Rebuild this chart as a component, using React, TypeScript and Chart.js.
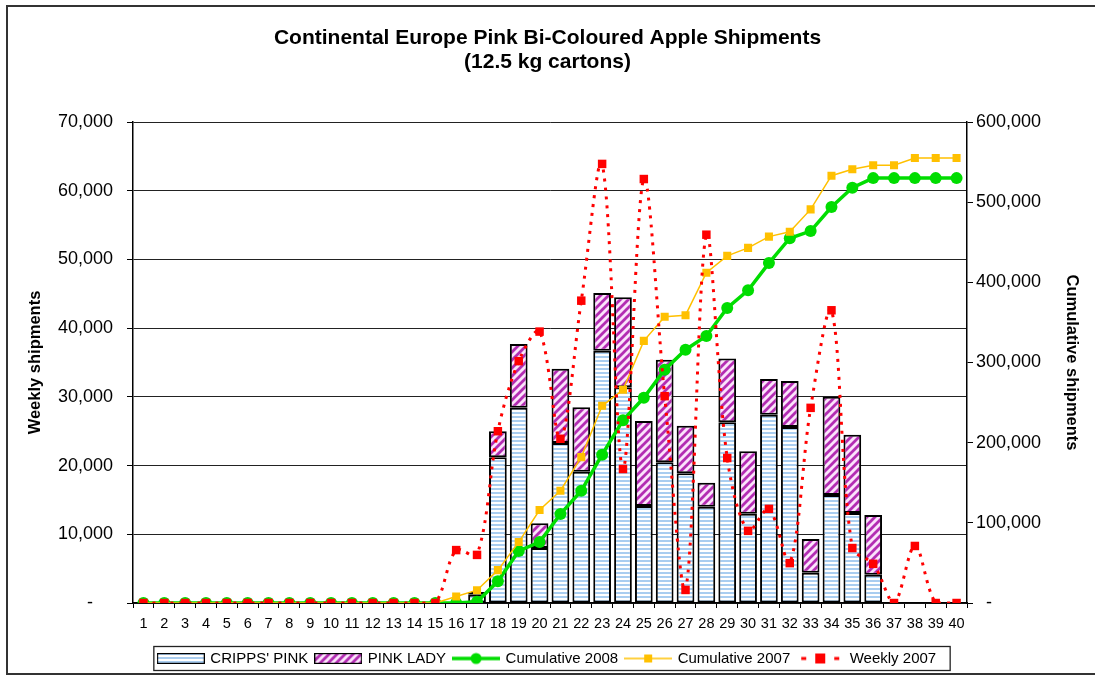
import React, { useEffect, useRef } from 'react';
import { Chart, registerables } from 'chart.js';

Chart.register(...registerables);

const FONT = "'Liberation Sans', Arial, Helvetica, sans-serif";

const weekLabels = [
  '1', '2', '3', '4', '5', '6', '7', '8', '9', '10',
  '11', '12', '13', '14', '15', '16', '17', '18', '19', '20',
  '21', '22', '23', '24', '25', '26', '27', '28', '29', '30',
  '31', '32', '33', '34', '35', '36', '37', '38', '39', '40',
];

const crippsPink = [
  null, null, null, null, null, null, null, null, null, null,
  null, null, null, null, null, null, 1200, 21200, 28400, 8000,
  23300, 19100, 36700, 31400, 14100, 20500, 18900, 14000, 26300, 13000,
  27400, 25600, 4400, 15700, 13100, 4100, null, null, null, null,
];

const pinkLady = [
  null, null, null, null, null, null, null, null, null, null,
  null, null, null, null, null, null, 400, 3800, 9300, 3600,
  10800, 9400, 8400, 13100, 12400, 14900, 6900, 3500, 9300, 9100,
  5200, 6700, 4900, 14300, 11400, 8700, null, null, null, null,
];

const cumulative2008 = [
  0, 0, 0, 0, 0, 0, 0, 0, 0, 0,
  0, 0, 0, 0, 0, 0, 1500, 27000, 65000, 76000,
  111000, 140000, 185000, 228000, 256000, 291000, 316000, 333000, 368000, 390000,
  424000, 455000, 464000, 494000, 518000, 530000, 530000, 530000, 530000, 530000,
];

const cumulative2007 = [
  0, 0, 0, 0, 0, 0, 0, 0, 0, 0,
  0, 0, 0, 0, 0, 8000, 16000, 41000, 76000, 116000,
  140000, 182000, 246000, 266000, 327000, 357000, 359000, 412000, 433000, 443000,
  457000, 463000, 491000, 533000, 541000, 546000, 546000, 555000, 555000, 555000,
];

const weekly2007 = [
  0, 0, 0, 0, 0, 0, 0, 0, 0, 0,
  0, 0, 0, 0, 0, 7700, 7000, 25000, 35200, 39500,
  23900, 44000, 63900, 19500, 61700, 30100, 1900, 53600, 21100, 10500,
  13700, 5800, 28400, 42600, 8000, 5700, 0, 8300, 0, 0,
];

const titleLines = ['Continental Europe Pink Bi-Coloured Apple Shipments', '(12.5 kg cartons)'];
const legendNames = ["CRIPPS' PINK", 'PINK LADY', 'Cumulative 2008', 'Cumulative 2007', 'Weekly 2007'];

const BLUE_STRIPE = '#a9cdf0';
const PURPLE = '#b32db3';
const PINK_BG = '#fbe3fb';
const GREEN = '#00dd00';
const ORANGE = '#ffc000';
const RED = '#ff0000';

function makeBluePattern(ctx: CanvasRenderingContext2D) {
  const c = document.createElement('canvas');
  c.width = 4;
  c.height = 4;
  const g = c.getContext('2d')!;
  g.fillStyle = '#ffffff';
  g.fillRect(0, 0, 4, 4);
  g.fillStyle = BLUE_STRIPE;
  g.fillRect(0, 0, 4, 2);
  return ctx.createPattern(c, 'repeat')!;
}

function makePinkPattern(ctx: CanvasRenderingContext2D) {
  const c = document.createElement('canvas');
  c.width = 8;
  c.height = 8;
  const g = c.getContext('2d')!;
  g.fillStyle = PINK_BG;
  g.fillRect(0, 0, 8, 8);
  g.strokeStyle = PURPLE;
  g.lineWidth = 2.8;
  g.beginPath();
  g.moveTo(-2, 10); g.lineTo(10, -2);
  g.moveTo(-6, 6); g.lineTo(6, -6);
  g.moveTo(2, 14); g.lineTo(14, 2);
  g.stroke();
  return ctx.createPattern(c, 'repeat')!;
}

function swatchBar(kind: 'blue' | 'pink') {
  const c = document.createElement('canvas');
  c.width = 48;
  c.height = 11;
  const g = c.getContext('2d')!;
  g.fillStyle = kind === 'blue' ? makeBluePattern(g) : makePinkPattern(g);
  g.fillRect(1, 1, 46, 9);
  g.strokeStyle = '#000';
  g.lineWidth = 1.2;
  g.strokeRect(0.6, 0.6, 46.8, 9.8);
  return c;
}

function swatchLine(kind: 'green' | 'orange' | 'red') {
  const c = document.createElement('canvas');
  c.width = 48;
  c.height = 14;
  const g = c.getContext('2d')!;
  if (kind === 'green') {
    g.strokeStyle = GREEN;
    g.lineWidth = 3.5;
    g.beginPath(); g.moveTo(0, 7); g.lineTo(48, 7); g.stroke();
    g.fillStyle = GREEN;
    g.beginPath(); g.arc(24, 7, 5.5, 0, Math.PI * 2); g.fill();
  } else if (kind === 'orange') {
    g.strokeStyle = ORANGE;
    g.lineWidth = 1.5;
    g.beginPath(); g.moveTo(0, 7); g.lineTo(48, 7); g.stroke();
    g.fillStyle = ORANGE;
    g.fillRect(20, 3, 8, 8);
  } else {
    g.fillStyle = RED;
    g.fillRect(5, 5.5, 5, 3);
    g.fillRect(19, 2, 10, 10);
    g.fillRect(38, 5.5, 5, 3);
  }
  return c;
}

const legendBoxPlugin = {
  id: 'legendBox',
  afterDraw(chart: any) {
    const lg = chart.legend;
    if (!lg || !lg.legendHitBoxes || !lg.legendHitBoxes.length) return;
    const hb = lg.legendHitBoxes;
    const first = hb[0];
    const last = hb[hb.length - 1];
    const left = first.left - 5;
    const right = last.left + last.width + 14;
    const cy = first.top + first.height / 2;
    const ctx = chart.ctx;
    ctx.save();
    ctx.strokeStyle = '#222';
    ctx.lineWidth = 1.3;
    ctx.strokeRect(left, cy - 12, right - left, 24);
    ctx.restore();
  },
};

export default function App() {
  const ref = useRef<HTMLCanvasElement>(null);

  useEffect(() => {
    document.body.style.margin = '0';
    const canvas = ref.current!;
    const ctx = canvas.getContext('2d')!;
    const bluePat = makeBluePattern(ctx);
    const pinkPat = makePinkPattern(ctx);
    Chart.defaults.font.family = FONT;
    Chart.defaults.color = '#000';

    const swatches = [swatchBar('blue'), swatchBar('pink'), swatchLine('green'), swatchLine('orange'), swatchLine('red')];

    const fmtLeft = (v: any) => (Number(v) === 0 ? '-    ' : Number(v).toLocaleString('en-US'));
    const fmtRight = (v: any) => (Number(v) === 0 ? '  -' : Number(v).toLocaleString('en-US'));

    const chart = new Chart(canvas, {
      type: 'bar',
      data: {
        labels: weekLabels,
        datasets: [
          {
            type: 'bar',
            label: legendNames[0],
            data: crippsPink,
            backgroundColor: bluePat,
            borderColor: '#000',
            borderWidth: 2,
            borderSkipped: false,
            stack: 'bars',
            yAxisID: 'y',
            order: 10,
            barPercentage: 0.85,
            categoryPercentage: 1,
          },
          {
            type: 'bar',
            label: legendNames[1],
            data: pinkLady,
            backgroundColor: pinkPat,
            borderColor: '#000',
            borderWidth: 2,
            borderSkipped: false,
            stack: 'bars',
            yAxisID: 'y',
            order: 10,
            barPercentage: 0.85,
            categoryPercentage: 1,
          },
          {
            type: 'line',
            label: legendNames[2],
            data: cumulative2008,
            yAxisID: 'y1',
            borderColor: GREEN,
            backgroundColor: GREEN,
            borderWidth: 3.5,
            pointRadius: 6,
            pointStyle: 'circle',
            pointBorderWidth: 0,
            tension: 0,
            order: 3,
            stack: 'c2008',
          },
          {
            type: 'line',
            label: legendNames[3],
            data: cumulative2007,
            yAxisID: 'y1',
            borderColor: ORANGE,
            backgroundColor: ORANGE,
            borderWidth: 1.5,
            pointRadius: 5.7,
            pointStyle: 'rect',
            pointBorderWidth: 0,
            tension: 0,
            order: 2,
            stack: 'c2007',
          },
          {
            type: 'line',
            label: legendNames[4],
            data: weekly2007,
            yAxisID: 'y',
            borderColor: RED,
            backgroundColor: RED,
            borderWidth: 3,
            borderDash: [3, 6],
            pointRadius: 6,
            pointStyle: 'rect',
            pointBorderWidth: 0,
            tension: 0.33,
            order: 1,
            stack: 'w2007',
          },
        ] as any,
      },
      options: {
        responsive: false,
        animation: false,
        layout: { padding: 0 },
        plugins: {
          title: {
            display: true,
            text: titleLines,
            color: '#000',
            font: { family: FONT, size: 21, weight: 'bold', lineHeight: 1.143 },
            padding: { top: 26, bottom: 48 },
          },
          legend: {
            position: 'bottom',
            labels: {
              usePointStyle: true,
              pointStyleWidth: 44,
              padding: 8,
              color: '#000',
              font: { family: FONT, size: 15 },
              generateLabels: () =>
                legendNames.map((name, i) => ({
                  text: name,
                  pointStyle: swatches[i] as any,
                  fillStyle: 'rgba(0,0,0,0)',
                  strokeStyle: 'rgba(0,0,0,0)',
                  lineWidth: 0,
                  hidden: false,
                  datasetIndex: i,
                  fontColor: '#000',
                })) as any,
            },
          },
          tooltip: { enabled: false },
        },
        scales: {
          x: {
            stacked: true,
            grid: { offset: true, drawOnChartArea: false, drawTicks: true, tickLength: 5, color: '#000', lineWidth: 1 },
            border: { display: true, color: '#000', width: 1.5 },
            ticks: { autoSkip: false, maxRotation: 0, minRotation: 0, padding: 7, color: '#000', font: { family: FONT, size: 14.5 } },
            afterFit: (s: any) => { s.height = 40; },
          },
          y: {
            stacked: true,
            position: 'left',
            min: 0,
            max: 70000,
            ticks: { stepSize: 10000, padding: 14, color: '#000', callback: fmtLeft, font: { family: FONT, size: 18 } },
            grid: { color: '#222', lineWidth: 1, tickLength: 6, tickColor: '#000' },
            border: { display: true, color: '#000', width: 1.5 },
            title: {
              display: true,
              text: 'Weekly shipments',
              color: '#000',
              font: { family: FONT, size: 16.5, weight: 'bold' },
              padding: { top: 26, bottom: 0 },
            },
            afterFit: (s: any) => { s.width = 133; },
          },
          y1: {
            position: 'right',
            min: 0,
            max: 600000,
            ticks: { stepSize: 100000, padding: 3, color: '#000', callback: fmtRight, font: { family: FONT, size: 18 } },
            grid: { drawOnChartArea: false, tickLength: 6, color: '#000', lineWidth: 1 },
            border: { display: true, color: '#000', width: 1.5 },
            title: {
              display: true,
              text: 'Cumulative shipments',
              color: '#000',
              font: { family: FONT, size: 16.5, weight: 'bold' },
              padding: { top: 14, bottom: 0 },
            },
            afterFit: (s: any) => { s.width = 1095 - 967; },
          },
        },
      } as any,
      plugins: [legendBoxPlugin],
    });

    return () => chart.destroy();
  }, []);

  return (
    <div style={{ position: 'relative', width: 1095, height: 676, overflow: 'hidden', background: '#fff' }}>
      <canvas ref={ref} width={1095} height={676} style={{ position: 'absolute', left: 0, top: 0, width: 1095, height: 676 }} />
      <div
        style={{
          position: 'absolute',
          left: 6,
          top: 5,
          width: 1200,
          height: 670,
          border: '2px solid #333',
          boxSizing: 'border-box',
          pointerEvents: 'none',
        }}
      />
    </div>
  );
}
